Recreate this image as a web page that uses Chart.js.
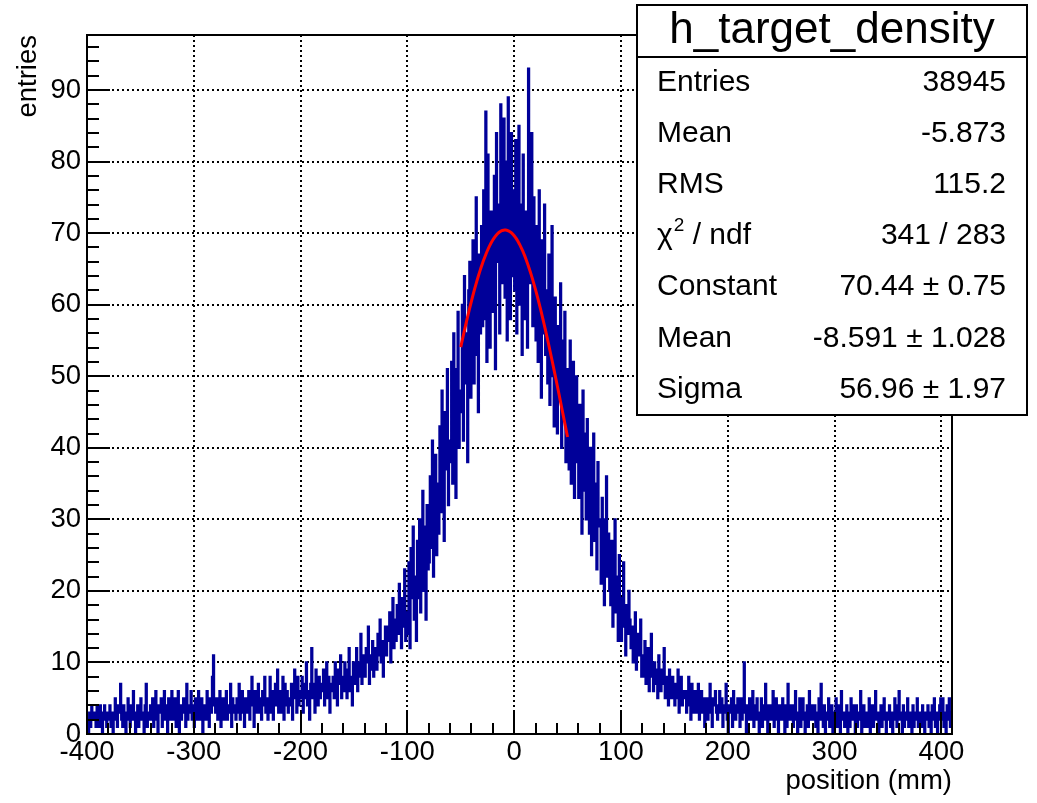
<!DOCTYPE html>
<html>
<head>
<meta charset="utf-8">
<title>h_target_density</title>
<script src="https://cdn.jsdelivr.net/npm/chart.js@4.4.0/dist/chart.umd.min.js"></script>
<style>
  html, body { margin: 0; padding: 0; background: #fff; }
  canvas { display: block; }
</style>
</head>
<body>
<canvas id="mycanvas" width="1037" height="803"></canvas>
<script>
// h_target_density, 1 mm bins starting at -400 mm
var binLow = -400;
var binWidth = 1;
var binContents = [
  2,0,3,1,4,2,2,3,1,4, 3,1,4,2,0,3,4,2,1,3,
  2,4,1,3,0,2,5,3,1,4, 3,7,2,1,4,2,0,3,5,2,
  1,4,2,6,3,0,2,4,1,3, 5,2,3,0,4,7,1,3,2,4,
  2,5,1,3,6,2,0,4,3,5, 1,3,6,2,4,0,5,3,2,6,
  4,2,5,1,3,6,0,4,2,3, 5,3,1,7,2,4,3,6,2,4,
  1,5,3,2,6,4,2,5,0,3, 4,2,6,3,1,5,3,8,11,4,
  3,5,2,4,6,1,3,5,2,4, 6,2,4,3,7,1,5,3,4,2,
  5,3,7,2,4,6,3,1,5,4, 3,6,2,5,8,4,1,6,3,5,
  7,3,5,2,6,4,8,3,5,2, 4,8,3,6,2,5,7,4,9,3,
  6,3,5,8,2,7,4,6,3,5, 4,7,2,6,9,5,3,8,4,6,
  5,8,3,7,5,10,4,6,2,7, 12,5,7,3,9,6,4,8,5,7,
  6,9,4,7,10,5,8,3,7,6, 8,5,10,6,4,9,7,11,5,8,
  6,10,7,5,9,12,6,8,4,10, 9,7,12,6,10,8,14,7,9,11,
  8,12,10,15,7,11,9,13,8,10, 12,9,14,11,16,10,13,8,12,15,
  11,15,13,17,10,14,19,12,16,13, 18,14,21,16,12,19,15,23,13,17,
  14,24,12,26,19,29,16,22,13,27, 19,30,17,26,34,20,29,16,32,23,
  24,36,26,41,22,33,39,25,35,28, 43,31,48,35,27,45,37,51,32,41,
  38,52,35,56,44,33,51,59,40,48, 45,60,41,64,49,56,38,62,66,47,
  51,69,49,63,75,53,45,67,56,71, 57,76,58,87,52,81,66,54,73,63,
  59,78,51,84,66,74,56,88,63,77, 86,61,80,55,89,68,58,84,64,76,
  62,83,56,77,85,60,74,53,81,66, 58,73,54,93,63,79,84,57,75,61,
  55,71,52,76,60,47,69,56,74,53, 62,49,67,46,59,71,50,43,61,52,
  42,57,47,63,40,55,44,59,38,51, 48,37,55,35,46,52,33,44,50,38,
  33,46,36,28,48,34,42,30,44,35, 28,40,25,36,42,27,35,23,38,30,
  29,21,33,25,18,30,36,22,28,20, 18,27,15,24,30,17,22,13,25,19,
  13,19,24,15,11,18,14,20,16,12, 15,10,13,17,9,14,11,12,16,8,
  11,8,13,7,10,12,6,9,14,8, 6,10,7,9,5,11,8,6,9,7,
  12,5,8,6,4,9,7,5,8,6, 4,7,5,9,3,6,8,4,6,5,
  6,3,5,8,4,2,7,5,3,6, 3,5,7,2,4,6,3,5,1,4,
  5,2,4,7,3,1,5,4,6,3, 2,4,6,3,5,1,4,3,7,2,
  0,4,3,5,1,6,3,2,4,5, 3,1,5,2,4,10,3,0,4,2,
  5,2,3,6,1,4,2,5,3,0, 3,5,1,4,2,7,3,0,4,2,
  4,2,6,1,3,5,2,0,4,3, 2,5,3,0,4,1,7,3,2,4,
  3,1,4,6,2,0,3,5,1,3, 5,2,0,3,4,1,6,2,3,4,
  2,4,1,3,0,5,2,7,3,1, 4,0,3,2,5,1,3,4,0,2,
  3,5,1,2,4,0,6,2,3,1, 2,4,0,3,1,5,2,4,3,0,
  4,1,3,2,6,0,2,4,1,3, 1,3,5,0,2,4,1,3,6,2,
  3,0,2,4,1,3,5,2,0,3, 2,4,1,3,0,2,5,3,1,4,
  6,2,3,0,4,1,2,3,5,1, 2,3,0,4,1,3,2,5,1,2,
  3,1,4,2,0,3,2,4,1,3, 0,4,2,5,1,3,0,2,4,5,
  2,5,1,3,0,4,2,5,1,3
];

var xTicks = [-400, -300, -200, -100, 0, 100, 200, 300, 400];
var yTicks = [0, 10, 20, 30, 40, 50, 60, 70, 80, 90];

// gaussian fit result
var fitConstant = 70.44;
var fitMean = -8.591;
var fitSigma = 56.96;
var fitRange = [-50, 50];

var statLabels = ['Entries', 'Mean', 'RMS', 'χ² / ndf', 'Constant', 'Mean', 'Sigma'];
var statValues = ['38945', '-5.873', '115.2', '341 / 283', '70.44 ± 0.75', '-8.591 ± 1.028', '56.96 ± 1.97'];

var fontFamily = "'Liberation Sans', Arial, Helvetica, sans-serif";

var histPoints = binContents.map(function(v, i) {
  return {x: binLow + i * binWidth, y: v};
});
// closing edge of the last bin
histPoints.push({x: binLow + binContents.length * binWidth, y: binContents[binContents.length - 1]});

var fitPoints = [];
for (var fx = fitRange[0]; fx <= fitRange[1]; fx += 1) {
  fitPoints.push({x: fx, y: fitConstant * Math.exp(-0.5 * Math.pow((fx - fitMean) / fitSigma, 2))});
}

// ROOT style frame: dotted grid, inside ticks, stats box
var rootFrame = {
  id: 'rootFrame',
  beforeDatasetsDraw: function(chart) {
    var ctx = chart.ctx, a = chart.chartArea;
    var xs = chart.scales.x, ys = chart.scales.y;
    ctx.save();
    ctx.strokeStyle = '#000';
    ctx.lineWidth = 2;
    ctx.setLineDash([2, 3]);
    ctx.beginPath();
    xTicks.forEach(function(v) {
      var px = Math.round(xs.getPixelForValue(v));
      if (px > a.left + 2 && px < a.right - 2) {
        ctx.moveTo(px, a.top);
        ctx.lineTo(px, a.bottom);
      }
    });
    yTicks.forEach(function(v) {
      var py = Math.round(ys.getPixelForValue(v));
      if (py > a.top + 2 && py < a.bottom - 2) {
        ctx.moveTo(a.left, py);
        ctx.lineTo(a.right, py);
      }
    });
    ctx.stroke();
    ctx.restore();
  },
  afterDatasetsDraw: function(chart) {
    var ctx = chart.ctx, a = chart.chartArea;
    var xs = chart.scales.x, ys = chart.scales.y;
    ctx.save();
    ctx.strokeStyle = '#000';
    ctx.lineWidth = 2;
    ctx.setLineDash([]);
    ctx.strokeRect(a.left, a.top, a.right - a.left, a.bottom - a.top);
    ctx.beginPath();
    for (var v = -400; v <= 410; v += 20) {
      var px = Math.round(xs.getPixelForValue(v));
      var len = (v % 100 === 0) ? 22 : 11;
      ctx.moveTo(px, a.bottom);
      ctx.lineTo(px, a.bottom - len);
    }
    for (var w = 0; w <= 97; w += 2) {
      var py = Math.round(ys.getPixelForValue(w));
      var l2 = (w % 10 === 0) ? 23 : 12;
      ctx.moveTo(a.left, py);
      ctx.lineTo(a.left + l2, py);
    }
    ctx.stroke();
    ctx.restore();
  },
  afterDraw: function(chart) {
    var ctx = chart.ctx;
    var left = 637, top = 5, right = 1027, bottom = 415, split = 57;
    ctx.save();
    ctx.setLineDash([]);
    ctx.fillStyle = '#fff';
    ctx.fillRect(left, top, right - left, bottom - top);
    ctx.strokeStyle = '#000';
    ctx.lineWidth = 2;
    ctx.strokeRect(left, top, right - left, bottom - top);
    ctx.beginPath();
    ctx.moveTo(left, split);
    ctx.lineTo(right, split);
    ctx.stroke();

    ctx.fillStyle = '#000';
    ctx.textBaseline = 'middle';
    ctx.textAlign = 'center';
    ctx.font = '44px ' + fontFamily;
    ctx.fillText('h_target_density', (left + right) / 2, (top + split) / 2);

    var rowH = (bottom - split) / statLabels.length;
    statLabels.forEach(function(label, i) {
      var y = split + rowH * (i + 0.5);
      var x = left + 20;
      ctx.font = '30px ' + fontFamily;
      ctx.textAlign = 'left';
      var parts = label.split('²');
      if (parts.length > 1) {
        ctx.fillText(parts[0], x, y);
        x += ctx.measureText(parts[0]).width + 1;
        ctx.font = '19px ' + fontFamily;
        ctx.fillText('2', x, y - 10);
        x += ctx.measureText('2').width;
        ctx.font = '30px ' + fontFamily;
        ctx.fillText(parts[1], x, y);
      } else {
        ctx.fillText(label, x, y);
      }
      ctx.textAlign = 'right';
      ctx.fillText(statValues[i], right - 21, y);
    });
    ctx.restore();
  }
};

Chart.defaults.font.family = fontFamily;
Chart.defaults.color = '#000';

var ctx = document.getElementById('mycanvas');
var chart = new Chart(ctx, {
  type: 'line',
  data: {
    datasets: [
      {
        label: 'gaus',
        data: fitPoints,
        borderColor: '#ff0000',
        borderWidth: 3,
        pointRadius: 0,
        fill: false,
        tension: 0
      },
      {
        label: 'h_target_density',
        data: histPoints,
        borderColor: '#000099',
        borderWidth: 2.2,
        stepped: true,
        pointRadius: 0,
        fill: false
      }
    ]
  },
  options: {
    responsive: false,
    animation: false,
    layout: { padding: { left: 0, top: 35, right: 85, bottom: 0 } },
    plugins: {
      legend: { display: false },
      tooltip: { enabled: false }
    },
    scales: {
      x: {
        type: 'linear',
        min: -400,
        max: 410,
        afterBuildTicks: function(scale) {
          scale.ticks = xTicks.map(function(v) { return {value: v}; });
        },
        afterFit: function(scale) { scale.height = 69; },
        grid: { display: false, drawTicks: false },
        border: { display: false },
        ticks: {
          autoSkip: false,
          maxRotation: 0,
          padding: 2,
          color: '#000',
          font: { size: 27.5 },
          callback: function(v) { return String(v); }
        },
        title: {
          display: true,
          text: 'position (mm)',
          align: 'end',
          color: '#000',
          font: { size: 27.5 },
          padding: { top: 0, bottom: 5 }
        }
      },
      y: {
        type: 'linear',
        min: 0,
        max: 97.7,
        afterBuildTicks: function(scale) {
          scale.ticks = yTicks.map(function(v) { return {value: v}; });
        },
        afterFit: function(scale) { scale.width = 87; },
        grid: { display: false, drawTicks: false },
        border: { display: false },
        ticks: {
          padding: 6,
          color: '#000',
          font: { size: 27.5 },
          callback: function(v) { return String(v); }
        },
        title: {
          display: true,
          text: 'entries',
          align: 'end',
          color: '#000',
          font: { size: 27.5 },
          padding: { top: 12, bottom: 0 }
        }
      }
    }
  },
  plugins: [rootFrame]
});
</script>
</body>
</html>
